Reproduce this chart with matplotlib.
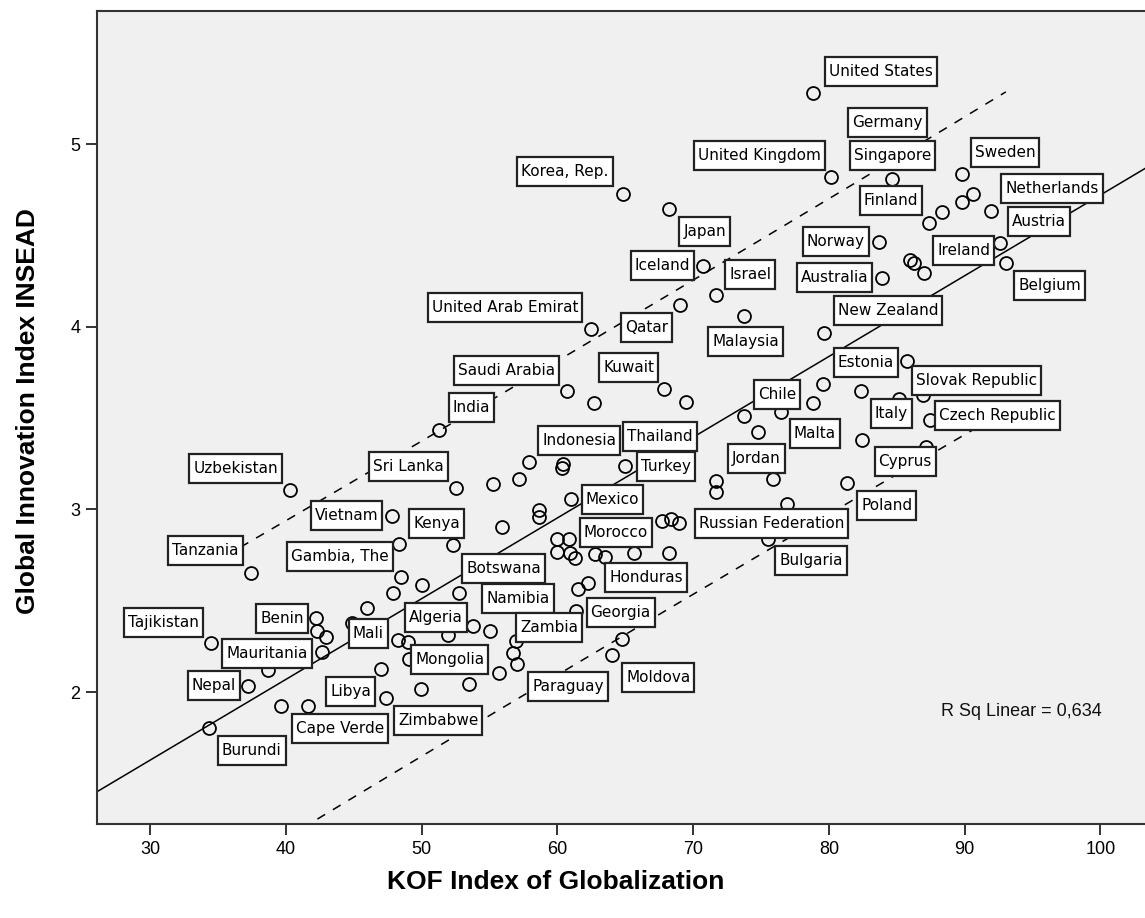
import numpy as np
import matplotlib
matplotlib.use("Agg")
import matplotlib.pyplot as plt
from matplotlib.patches import Rectangle
from matplotlib.transforms import IdentityTransform

# ---------------- data ----------------
kof = [78.84, 64.81, 80.19, 84.66, 89.81, 90.62, 89.77, 88.34, 87.36, 91.97,
       68.24, 83.71, 92.63, 93.03, 83.93, 85.97, 86.27, 87.00, 70.74, 71.68,
       69.00, 62.47, 73.74, 79.63, 85.77, 79.58, 82.33, 78.84, 85.17, 86.94,
       60.68, 62.71, 67.86, 69.45, 73.74, 74.79, 76.44, 87.44, 82.47, 87.12,
       51.28, 57.91, 60.43, 60.31, 64.98, 57.17, 55.23, 52.53, 61.00, 58.64,
       58.64, 55.93, 52.34, 59.99, 60.87, 59.99, 60.92, 61.30, 62.77, 63.50,
       65.66, 68.22, 67.68, 68.36, 68.97, 52.78, 61.54, 62.27, 71.65, 71.65,
       75.85, 76.93, 81.30, 75.53, 40.31, 47.84, 48.34, 37.44, 48.48, 50.00,
       47.88, 46.00, 42.20, 42.32, 42.94, 44.90, 53.81, 51.97, 48.24, 49.02,
       34.49, 42.64, 38.67, 49.07, 47.01, 53.49, 49.93, 37.24, 47.36, 39.65,
       41.66, 34.37, 61.37, 55.04, 56.95, 56.71, 57.05, 55.70, 64.73, 64.04]
gii = [5.277, 4.724, 4.821, 4.806, 4.835, 4.726, 4.684, 4.626, 4.569, 4.635,
       4.645, 4.465, 4.459, 4.346, 4.264, 4.365, 4.350, 4.295, 4.332, 4.173,
       4.118, 3.985, 4.058, 3.967, 3.812, 3.686, 3.649, 3.584, 3.602, 3.626,
       3.647, 3.584, 3.658, 3.586, 3.511, 3.425, 3.534, 3.489, 3.382, 3.342,
       3.434, 3.257, 3.246, 3.224, 3.239, 3.164, 3.138, 3.115, 3.056, 2.996,
       2.956, 2.905, 2.805, 2.840, 2.840, 2.768, 2.759, 2.732, 2.755, 2.737,
       2.764, 2.764, 2.938, 2.947, 2.923, 2.544, 2.562, 2.595, 3.155, 3.093,
       3.164, 3.029, 3.146, 2.836, 3.106, 2.963, 2.808, 2.653, 2.631, 2.586,
       2.544, 2.460, 2.403, 2.336, 2.303, 2.376, 2.361, 2.312, 2.285, 2.275,
       2.267, 2.217, 2.120, 2.179, 2.126, 2.044, 2.016, 2.033, 1.965, 1.925,
       1.925, 1.805, 2.445, 2.336, 2.279, 2.215, 2.152, 2.102, 2.290, 2.203]

label_names = ["United States", "Germany", "United Kingdom", "Singapore", "Sweden",
               "Korea, Rep.", "Netherlands", "Finland", "Japan", "Austria",
               "Norway", "Ireland", "Iceland", "Israel", "Australia", "Belgium",
               "New Zealand", "United Arab Emirat", "Qatar", "Malaysia",
               "Saudi Arabia", "Kuwait", "Estonia", "Slovak Republic", "Chile",
               "India", "Italy", "Czech Republic", "Malta", "Indonesia",
               "Thailand", "Jordan", "Cyprus", "Uzbekistan", "Sri Lanka",
               "Turkey", "Mexico", "Poland", "Vietnam", "Kenya", "Morocco",
               "Russian Federation", "Gambia, The", "Tanzania", "Bulgaria",
               "Botswana", "Honduras", "Namibia", "Tajikistan", "Benin",
               "Georgia", "Algeria", "Zambia", "Mali", "Mauritania", "Mongolia",
               "Moldova", "Nepal", "Libya", "Paraguay", "Zimbabwe", "Cape Verde",
               "Burundi"]

# label box centres (data units)
label_x = [83.83, 84.31, 74.87, 84.69, 92.96, 60.56, 96.44, 84.56, 70.85, 95.46,
           80.52, 89.92, 67.74, 74.22, 80.42, 96.27, 84.37, 56.14, 66.58, 73.87,
           56.27, 65.25, 82.71, 90.85, 76.17, 53.67, 84.58, 92.43, 78.97, 61.63,
           67.56, 74.68, 85.62, 36.32, 49.05, 68.03, 64.06, 84.25, 44.48, 51.11,
           64.30, 75.75, 43.99, 34.09, 78.70, 56.05, 66.55, 57.10, 30.99, 39.73,
           64.67, 51.05, 59.40, 46.08, 38.62, 52.07, 67.43, 34.70, 44.78, 60.80,
           51.23, 44.01, 37.49]
label_y = [5.397, 5.117, 4.935, 4.939, 4.956, 4.848, 4.754, 4.691, 4.522, 4.576,
           4.465, 4.417, 4.336, 4.286, 4.268, 4.226, 4.088, 4.107, 3.993, 3.920,
           3.762, 3.776, 3.803, 3.705, 3.627, 3.556, 3.523, 3.513, 3.413, 3.378,
           3.397, 3.276, 3.263, 3.226, 3.235, 3.233, 3.055, 3.022, 2.967, 2.925,
           2.875, 2.921, 2.744, 2.773, 2.721, 2.679, 2.628, 2.514, 2.383, 2.405,
           2.435, 2.406, 2.351, 2.321, 2.213, 2.180, 2.079, 2.036, 2.004, 2.033,
           1.843, 1.803, 1.681]

# fit line as drawn in the reference (SPSS linear fit, 95% individual PI)
fit_intercept = 0.301
fit_slope = 0.0442
fit_resid_sd = 0.432

x_ticks = [30, 40, 50, 60, 70, 80, 90, 100]
y_ticks = [2, 3, 4, 5]
x_title = "KOF Index of Globalization"
y_title = "Global Innovation Index INSEAD"
r2_text = "R Sq Linear = 0,634"

# ---------------- figure ----------------
plt.rcParams["lines.scale_dashes"] = False
W, H = 1145, 918
fig = plt.figure(figsize=(W / 100, H / 100), dpi=100)
fig.patch.set_facecolor("white")
ax = fig.add_axes([97 / W, 1 - 824 / H, (1148 - 97) / W, (824 - 11) / H])
ax.set_facecolor("#f0f0f0")
ax.set_xlim(26.1, 103.5)
ax.set_ylim(1.278, 5.728)

x = np.array(kof)
y = np.array(gii)

n = len(x)
xbar = x.mean()
sxx = np.sum((x - xbar) ** 2)
tval = 1.98
xf = np.linspace(26.1, 103.5, 200)
ax.plot(xf, fit_intercept + fit_slope * xf, color="black", lw=1.1, zorder=2)
xp = np.linspace(x.min(), x.max(), 200)
half = tval * fit_resid_sd * np.sqrt(1 + 1 / n + (xp - xbar) ** 2 / sxx)
for sign in (1, -1):
    ax.plot(xp, fit_intercept + fit_slope * xp + sign * half, color="black",
            lw=1.1, linestyle=(0, (6.5, 6.5)), zorder=2)

ax.plot(x, y, linestyle="none", marker="o", ms=9.3, mfc="none",
        mec="black", mew=1.3, zorder=3)

ax.set_xticks(x_ticks)
ax.set_yticks(y_ticks)
ax.set_xticklabels([str(v) for v in x_ticks], family="Liberation Sans", fontsize=13)
ax.set_yticklabels([str(v) for v in y_ticks], family="Liberation Sans", fontsize=13)
ax.tick_params(direction="out", length=8, width=1.4, color="#333333", pad=4)
for sp in ax.spines.values():
    sp.set_linewidth(1.5)
    sp.set_color("#333333")

ax.text(94.14, 1.896, r2_text, ha="center", va="center",
        family="Liberation Sans", fontsize=13, color="#111111", zorder=6)

fig.text(556 / W, 1 - 882 / H, x_title, ha="center", va="center",
         family="Liberation Sans", fontweight="bold", fontsize=19)
fig.text(28 / W, 1 - 411 / H, y_title, ha="center", va="center", rotation=90,
         family="Liberation Sans", fontweight="bold", fontsize=19)

texts = []
for name, lx, ly in zip(label_names, label_x, label_y):
    t = ax.text(lx, ly, name, ha="center", va="center", family="DejaVu Sans",
                fontsize=11, color="black", zorder=6)
    texts.append(t)

fig.canvas.draw()
renderer = fig.canvas.get_renderer()
for t in texts:
    bb = t.get_window_extent(renderer)
    cx = (bb.x0 + bb.x1) / 2
    cy = (bb.y0 + bb.y1) / 2
    w = bb.width + 8
    h = 29
    r = Rectangle((cx - w / 2, cy - h / 2), w, h, transform=IdentityTransform(),
                  facecolor="white", edgecolor="#222222", lw=1.6, zorder=5)
    fig.add_artist(r)
    t.set_zorder(7)
    t.remove()
    fig.add_artist(t)

fig.savefig("out.png", dpi=100)
